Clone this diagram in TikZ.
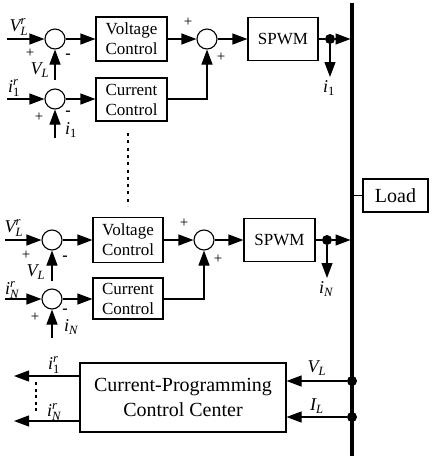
\documentclass[tikz,border=0pt]{standalone}
\usepackage{amsmath}
\usepackage{fontspec}
\setmainfont{Liberation Serif}
\usetikzlibrary{arrows.meta}
\newcommand{\mv}[1]{\textit{#1}}
\newcommand{\mup}[1]{\textup{#1}}
\begin{document}
\begin{tikzpicture}[x=1pt,y=-1pt,
  ln/.style={line width=1.1pt},
  arr/.style={ln,-{Triangle[length=15pt,width=11pt]}},
  sumc/.style={circle,draw,ln,minimum size=20pt,inner sep=0pt},
  blk/.style={draw,ln,align=center,inner sep=0pt,font=\fontsize{17}{20}\selectfont},
  bigblk/.style={draw,ln,align=center,inner sep=0pt,font=\fontsize{20}{25}\selectfont},
  dotn/.style={circle,fill,minimum size=10pt,inner sep=0pt},
  lab/.style={inner sep=0pt,font=\fontsize{18}{20}\selectfont},
  sgn/.style={inner sep=0pt,font=\fontsize{15}{16}\selectfont},
  msgn/.style={inner sep=0pt,font=\bfseries\fontsize{16}{16}\selectfont}]
\useasboundingbox (0,0) rectangle (432,459);
% bus
\coordinate (bt) at (352,3);
\coordinate (bb) at (352,456);
\draw[line width=3.5pt] (bt) -- (bb);
% ---------- group 1 ----------
\node[sumc] (sv1) at (55,39) {};
\node[sumc] (si1) at (55,99) {};
\node[blk,minimum width=71pt,minimum height=44pt] (vc1) at (131.5,39) {Voltage\\Control};
\node[blk,minimum width=71pt,minimum height=43pt] (cc1) at (131.5,99.5) {Current\\Control};
\node[sumc] (sa1) at (207,39) {};
\node[blk,minimum width=70pt,minimum height=43pt] (sp1) at (283,39) {SPWM};
\node[dotn] (d1) at (330,39) {};
\coordinate (in1v) at (7,39);
\coordinate (in1i) at (7,99);
\coordinate (fb1v) at (55,80);
\coordinate (fb1i) at (55,138);
\coordinate (b1) at (350.5,39);
\coordinate (o1) at (330,77);
\draw[arr] (in1v) -- (sv1);
\draw[arr] (in1i) -- (si1);
\draw[arr] (fb1v) -- (sv1);
\draw[arr] (fb1i) -- (si1);
\draw[arr] (sv1) -- (vc1);
\draw[arr] (si1) -- (cc1.west |- si1);
\draw[arr] (vc1) -- (sa1);
\draw[arr] (cc1.east |- si1) -| (sa1.south);
\draw[arr] (sa1) -- (sp1);
\draw[ln] (sp1) -- (d1);
\draw[arr] (d1) -- (b1);
\draw[arr] (d1) -- (o1);
\node[lab] (l1a) at (19,27) {$\mv{V}_{\mv{L}}^{\mv{r}}$};
\node[sgn] (l1b) at (30,53) {+};
\node[msgn] (l1c) at (68,56) {-};
\node[lab] (l1d) at (40,70) {$\mv{V}_{\mv{L}}$};
\node[lab] (l1e) at (14,88) {$\mv{i}_{\mup{1}}^{\mv{r}}$};
\node[sgn] (l1f) at (39,117) {+};
\node[msgn] (l1g) at (68,113) {-};
\node[lab] (l1h) at (71,130) {$\mv{i}_{\mup{1}}$};
\node[sgn] (l1i) at (188,22) {+};
\node[sgn] (l1j) at (221,57) {+};
\node[lab] (l1k) at (329,88) {$\mv{i}_{\mup{1}}$};
% dotted separator
\coordinate (dt) at (128,133);
\coordinate (db) at (128,206);
\draw[line width=2pt,dash pattern=on 3pt off 4.3pt] (dt) -- (db);
% ---------- group N ----------
\node[sumc] (sv2) at (52,240) {};
\node[sumc] (si2) at (52,299) {};
\node[blk,minimum width=70pt,minimum height=45pt] (vc2) at (128,240) {Voltage\\Control};
\node[blk,minimum width=70pt,minimum height=41pt] (cc2) at (128,298.5) {Current\\Control};
\node[sumc] (sa2) at (204,240) {};
\node[blk,minimum width=71pt,minimum height=43pt] (sp2) at (279.5,240) {SPWM};
\node[dotn] (d2) at (327,240) {};
\coordinate (in2v) at (5,240);
\coordinate (in2i) at (5,299);
\coordinate (fb2v) at (52,281);
\coordinate (fb2i) at (52,338);
\coordinate (b2) at (350.5,240);
\coordinate (o2) at (327,278);
\draw[arr] (in2v) -- (sv2);
\draw[arr] (in2i) -- (si2);
\draw[arr] (fb2v) -- (sv2);
\draw[arr] (fb2i) -- (si2);
\draw[arr] (sv2) -- (vc2);
\draw[arr] (si2) -- (cc2.west |- si2);
\draw[arr] (vc2) -- (sa2);
\draw[arr] (cc2.east |- si2) -| (sa2.south);
\draw[arr] (sa2) -- (sp2);
\draw[ln] (sp2) -- (d2);
\draw[arr] (d2) -- (b2);
\draw[arr] (d2) -- (o2);
\node[lab] (l2a) at (14,228) {$\mv{V}_{\mv{L}}^{\mv{r}}$};
\node[sgn] (l2b) at (26,255) {+};
\node[msgn] (l2c) at (65,258) {-};
\node[lab] (l2d) at (36,272) {$\mv{V}_{\mv{L}}$};
\node[lab] (l2e) at (12,290) {$\mv{i}_{\mv{N}}^{\mv{r}}$};
\node[sgn] (l2f) at (35,317) {+};
\node[msgn] (l2g) at (65,311) {-};
\node[lab] (l2h) at (71,327) {$\mv{i}_{\mv{N}}$};
\node[sgn] (l2i) at (184,223) {+};
\node[sgn] (l2j) at (218,259) {+};
\node[lab] (l2k) at (326,289) {$\mv{i}_{\mv{N}}$};
% ---------- load ----------
\node[bigblk,minimum width=65pt,minimum height=33pt] (load) at (395.5,195.5) {Load};
\coordinate (bl) at (352,195.5);
\draw[ln] (bl) -- (load);
% ---------- control center ----------
\node[bigblk,minimum width=206pt,minimum height=69pt] (cpcc) at (183,397.5) {Current-Programming\\Control Center};
\coordinate (oi1) at (14,376);
\coordinate (oiN) at (14,421);
\draw[arr] (cpcc.west |- oi1) -- (oi1);
\draw[arr] (cpcc.west |- oiN) -- (oiN);
\coordinate (ot) at (36,382);
\coordinate (ob) at (36,414);
\draw[line width=2pt,dash pattern=on 3pt off 3.5pt] (ot) -- (ob);
\node[dotn] (dv) at (352,381) {};
\node[dotn] (di) at (352,417) {};
\draw[arr] (dv) -- (cpcc.east |- dv);
\draw[arr] (di) -- (cpcc.east |- di);
\node[lab] (l3a) at (54,365) {$\mv{i}_{\mup{1}}^{\mv{r}}$};
\node[lab] (l3b) at (54,412) {$\mv{i}_{\mv{N}}^{\mv{r}}$};
\node[lab] (l3c) at (317,368) {$\mv{V}_{\mv{L}}$};
\node[lab] (l3d) at (317,406) {$\mv{I}_{\mv{L}}$};
\end{tikzpicture}
\end{document}
